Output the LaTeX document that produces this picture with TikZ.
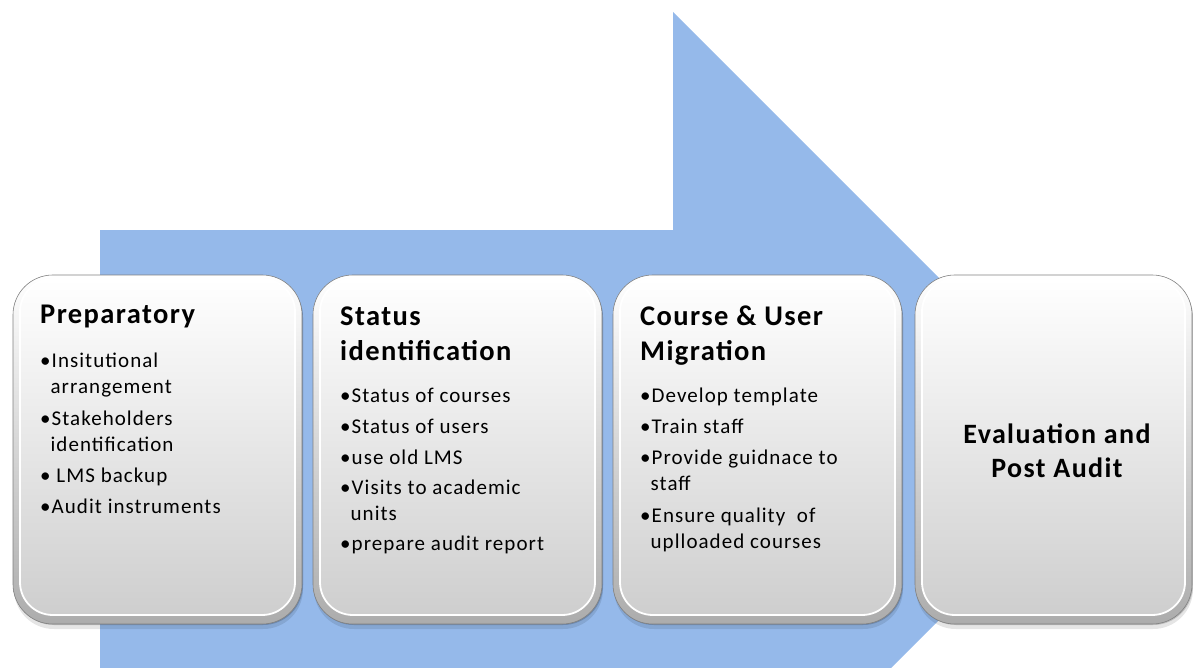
\documentclass[tikz,border=0pt]{standalone}
\usepackage{fontspec}
\setmainfont{Carlito}
\newfontfamily\wide[LetterSpace=5]{Carlito}

\definecolor{arrowblue}{RGB}{149,185,234}
\definecolor{boxgray}{RGB}{206,206,206}
\definecolor{rimgray}{RGB}{172,172,172}

\tikzset{
  headtext/.style={font=\wide\bfseries\fontsize{28.5bp}{35bp}\selectfont, align=left, inner sep=0pt},
  itemtext/.style={font=\wide\fontsize{21bp}{26bp}\selectfont, align=left, inner sep=0pt},
}
\newcommand{\bul}{\textbullet}
\newcommand{\ind}{\hphantom{\textbullet}}

\begin{document}
\begin{tikzpicture}[x=1bp, y=-1bp]
  \useasboundingbox (0,0) rectangle (1193,668);
  % big block arrow behind the phases
  \begin{scope}
    \clip (0,0) rectangle (1193,668);
    \fill[arrowblue] (100,230) -- (673,230) -- (673,12) -- (1110,449) -- (673,886) -- (673,668) -- (100,668) -- cycle;
  \end{scope}
  % draw bevelled phase boxes
  \foreach \x/\w in {13/289, 313/289, 613/289, 915/277} {
    \fill[black, opacity=0.10, rounded corners=40] (\x+1,278) rectangle ++(\w,351);
    \fill[black, opacity=0.18, rounded corners=40] (\x+1,277) rectangle ++(\w,348);
    \shade[top color=white, bottom color=rimgray, draw=black!50, line width=0.6, rounded corners=40] (\x,275) rectangle ++(\w,349);
    \shade[top color=white, bottom color=boxgray, draw=white, line width=1.8, rounded corners=33] (\x+7,279) rectangle ++(\w-14,336);
  }
  % phase 1 (base anchor sits on the last line)
  \node[headtext, anchor=base west] (prep) at (40,323) {Preparatory};
  \node[itemtext, anchor=base west] (preplist) at (40,513) {\bul Insitutional\\ \ind arrangement\\[6bp] \bul Stakeholders\\ \ind identification\\[5bp] \bul\ LMS backup\\[5bp] \bul Audit instruments};
  % phase 2
  \node[headtext, anchor=base west] (status) at (340,360) {Status\\identification};
  \node[itemtext, anchor=base west] (statuslist) at (340,550) {\bul Status of courses\\[5bp] \bul Status of users\\[5bp] \bul use old LMS\\[4bp] \bul Visits to academic\\ \ind units\\[4bp] \bul prepare audit report};
  % phase 3
  \node[headtext, anchor=base west] (migr) at (640,360) {Course \& User\\Migration};
  \node[itemtext, anchor=base west] (migrlist) at (640,548) {\bul Develop template\\[5bp] \bul Train staff\\[5bp] \bul Provide guidnace to\\ \ind staff\\[6bp] \bul Ensure quality\ \ of\\ \ind uplloaded courses};
  % phase 4
  \node[font=\wide\bfseries\fontsize{28bp}{34bp}\selectfont, align=center, inner sep=0pt, anchor=base] (evalpost) at (1057,477) {Evaluation and\\Post Audit};
\end{tikzpicture}
\end{document}
